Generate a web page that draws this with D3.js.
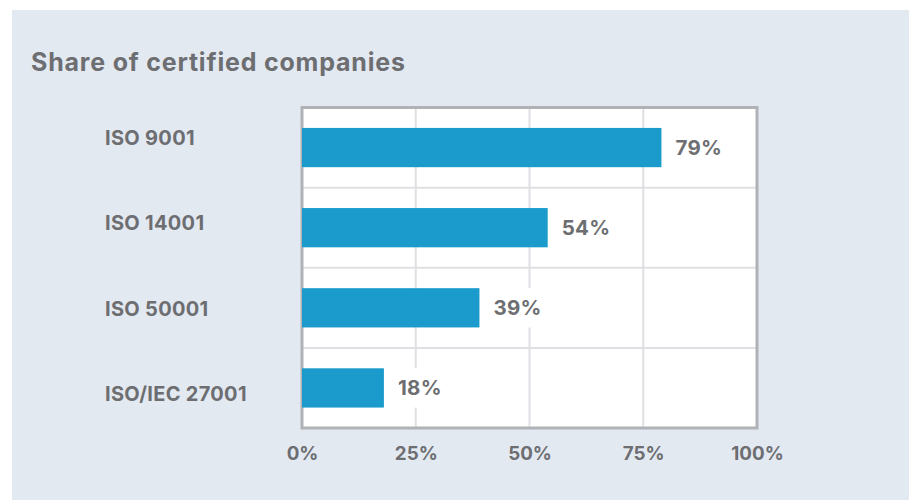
<!DOCTYPE html>
<html>
<head>
<meta charset="utf-8">
<script src="https://cdn.jsdelivr.net/npm/d3@7"></script>
<style>
  html, body { margin: 0; padding: 0; background: #ffffff; }
  svg { display: block; }
  text { font-family: "Inter", "Open Sans", sans-serif; font-weight: 700; fill: #6d6e71; }
</style>
</head>
<body>
<svg id="chart" width="909" height="500"></svg>
<script>
const categories = ["ISO 9001", "ISO 14001", "ISO 50001", "ISO/IEC 27001"];
const values = [79, 54, 39, 18];
const tickValues = [0, 25, 50, 75, 100];
const tickLabels = ["0%", "25%", "50%", "75%", "100%"];
const title = "Share of certified companies";

const svg = d3.select("#chart");
const W = 909, H = 500;

// panel background
svg.append("rect").attr("x", 12).attr("y", 10).attr("width", W - 12).attr("height", H - 10).attr("fill", "#e3e9f1");

svg.append("text").attr("x", 31).attr("y", 71).attr("font-size", 25).attr("letter-spacing", 0.8).text(title);

const x = d3.scaleLinear().domain([0, 100]).range([302, 757]);
const y = d3.scaleBand().domain(categories).range([107.5, 428]).padding(0);
const yLab = d3.scaleBand().domain(categories).range([95, 437]).padding(0);

// plot background
svg.append("rect").attr("x", x(0)).attr("y", y.range()[0]).attr("width", x(100) - x(0)).attr("height", y.range()[1] - y.range()[0]).attr("fill", "#ffffff");

// vertical grid
svg.append("g").selectAll("line").data(tickValues.slice(1, -1)).join("line")
  .attr("x1", d => x(d)).attr("x2", d => x(d))
  .attr("y1", y.range()[0]).attr("y2", y.range()[1])
  .attr("stroke", "#dfe0e3").attr("stroke-width", 2);

// horizontal grid between bands
svg.append("g").selectAll("line").data(categories.slice(1)).join("line")
  .attr("x1", x(0)).attr("x2", x(100))
  .attr("y1", d => y(d)).attr("y2", d => y(d))
  .attr("stroke", "#dfe0e3").attr("stroke-width", 2);

// frame
svg.append("rect").attr("x", x(0)).attr("y", y.range()[0]).attr("width", x(100) - x(0)).attr("height", y.range()[1] - y.range()[0])
  .attr("fill", "none").attr("stroke", "#b1b2b6").attr("stroke-width", 3);

const bh = y.bandwidth() * 0.49;
const bars = svg.append("g");
bars.selectAll("rect").data(values).join("rect")
  .attr("x", x(0))
  .attr("y", (d, i) => y(categories[i]) + (y.bandwidth() - bh) / 2)
  .attr("width", d => x(d) - x(0))
  .attr("height", bh)
  .attr("fill", "#1a9bcb");

// value labels with white backing
const vl = svg.append("g");
values.forEach((v, i) => {
  const cy = y(categories[i]) + y.bandwidth() / 2;
  const g = vl.append("g");
  const bg = g.append("rect").attr("fill", "#ffffff");
  const t = g.append("text").attr("x", x(v) + 14).attr("y", cy).attr("dy", "0.36em").attr("font-size", 20.5).attr("letter-spacing", 0.3).text(v + "%");
  const bb = t.node().getBBox();
  bg.attr("x", bb.x - 6).attr("y", cy - bh / 2).attr("width", bb.width + 12).attr("height", bh);
});

// category labels
svg.append("g").selectAll("text").data(categories).join("text")
  .attr("x", 105).attr("y", d => yLab(d) + yLab.bandwidth() / 2).attr("dy", "0.36em")
  .attr("font-size", 20).attr("letter-spacing", 0.3).text(d => d);

// x-axis
const axis = d3.axisBottom(x).tickValues(tickValues).tickFormat((d, i) => tickLabels[i]).tickSize(0).tickPadding(0);
const ax = svg.append("g").attr("transform", "translate(0,447)").call(axis);
ax.select(".domain").remove();
ax.selectAll("text").attr("font-size", 18.8).attr("fill", "#6d6e71").attr("font-family", "Inter, 'Open Sans', sans-serif").attr("font-weight", 700);
</script>
</body>
</html>
